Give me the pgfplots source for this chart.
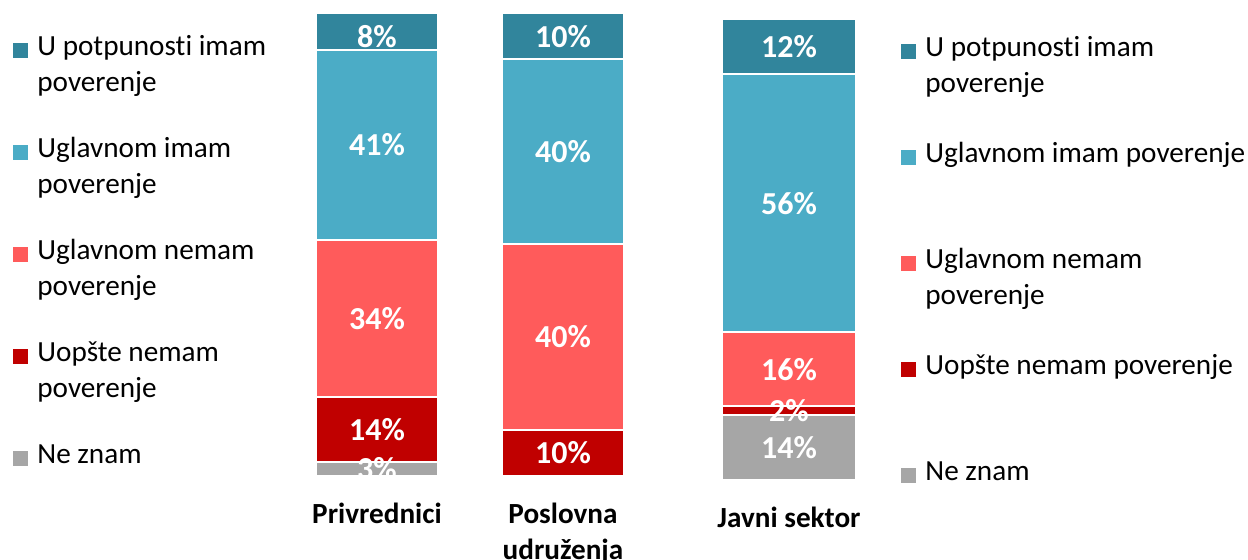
\documentclass[border=0pt]{standalone}
\usepackage{pgfplots}
\pgfplotsset{compat=1.18}
\usepackage{fontspec}
\setmainfont{Carlito}[Ligatures={NoCommon}]
\definecolor{cTeal}{HTML}{31859C}
\definecolor{cBlue}{HTML}{4BACC6}
\definecolor{cSalmon}{HTML}{FF5B5B}
\definecolor{cRed}{HTML}{C00000}
\definecolor{cGray}{HTML}{A6A6A6}
\newcommand{\lfont}{\fontsize{14.6pt}{18pt}\selectfont}
\newcommand{\legtxt}[2]{\parbox[t][#1][t]{200pt}{\lfont\strut #2}}
\pgfplotsset{
  chartA/.style={scale only axis, anchor=south west, at={(145pt,42pt)}, width=180pt, height=231.5pt,
    xmin=290, xmax=650, ymin=0, ymax=100, enlargelimits=false},
  chartB/.style={scale only axis, anchor=south west, at={(350pt,40pt)}, width=90pt, height=230.5pt,
    xmin=700, xmax=880, ymin=0, ymax=100, enlargelimits=false},
  bars/.style={ybar stacked, axis line style={draw=none}, ytick=\empty, major tick length=0pt,
    tick style={draw=none},
    xticklabel style={align=center, anchor=north, inner sep=0pt, yshift=-10.9pt,
      font=\fontsize{14.6pt}{18pt}\selectfont\bfseries},
    every axis plot/.append style={draw=white, line width=1pt}},
  leg/.style={reverse legend,
    legend style={draw=none, fill=none, inner sep=0pt, column sep=4.5pt, row sep=0pt,
      nodes={inner sep=0pt, text depth=}, cells={anchor=base west}},
    legend image code/.code={\fill[##1,draw=none] (0pt,-1.5pt) rectangle (7.5pt,6pt);}},
  lab/.style={hide axis,
    every node near coord/.append style={anchor=center, text=white, font=\fontsize{16pt}{18pt}\selectfont\bfseries}}
}
\begin{document}
\begin{tikzpicture}
\useasboundingbox (0,0) rectangle (624pt,280pt);
% ---------- chart A: Privrednici, Poslovna udruzenja ----------
\begin{axis}[chartA, bars, leg, bar width=122,
  xtick={377,563}, xticklabels={\strut Privrednici,{\strut Poslovna\\udruženja}},
  legend style={at={(-0.7694,0.9637)}, anchor=north west}]
\addplot[fill=cGray]    coordinates {(377,3)  (563,0)};
\addlegendentry{\legtxt{51pt}{Ne znam}}
\addplot[fill=cRed]     coordinates {(377,14) (563,10)};
\addlegendentry{\legtxt{51pt}{Uopšte nemam\\poverenje}}
\addplot[fill=cSalmon]  coordinates {(377,34) (563,40)};
\addlegendentry{\legtxt{51pt}{Uglavnom nemam\\poverenje}}
\addplot[fill=cBlue]    coordinates {(377,41) (563,40)};
\addlegendentry{\legtxt{51pt}{Uglavnom imam\\poverenje}}
\addplot[fill=cTeal]    coordinates {(377,8)  (563,10)};
\addlegendentry{\legtxt{51pt}{U potpunosti imam\\poverenje}}
\end{axis}
\begin{axis}[chartA, lab]
\addplot[draw=none, mark=none, nodes near coords, point meta=explicit symbolic] coordinates {
 (377,1.5)[3\%] (377,10)[14\%] (377,34)[34\%] (377,71.5)[41\%] (377,95)[8\%]
 (563,5)[10\%] (563,30)[40\%] (563,70)[40\%] (563,95)[10\%]};
\end{axis}
% ---------- chart B: Javni sektor ----------
\begin{axis}[chartB, bars, leg, bar width=134,
  xtick={789}, xticklabels={\strut Javni sektor},
  legend style={at={(1.1167,0.9744)}, anchor=north west}]
\addplot[fill=cGray]    coordinates {(789,14)};
\addlegendentry{\legtxt{53pt}{Ne znam}}
\addplot[fill=cRed]     coordinates {(789,2)};
\addlegendentry{\legtxt{53pt}{Uopšte nemam poverenje}}
\addplot[fill=cSalmon]  coordinates {(789,16)};
\addlegendentry{\legtxt{53pt}{Uglavnom nemam\\poverenje}}
\addplot[fill=cBlue]    coordinates {(789,56)};
\addlegendentry{\legtxt{53pt}{Uglavnom imam poverenje}}
\addplot[fill=cTeal]    coordinates {(789,12)};
\addlegendentry{\legtxt{53pt}{U potpunosti imam\\poverenje}}
\end{axis}
\begin{axis}[chartB, lab]
\addplot[draw=none, mark=none, nodes near coords, point meta=explicit symbolic] coordinates {
 (789,7)[14\%] (789,15)[2\%] (789,24)[16\%] (789,60)[56\%] (789,94)[12\%]};
\end{axis}
\end{tikzpicture}
\end{document}
